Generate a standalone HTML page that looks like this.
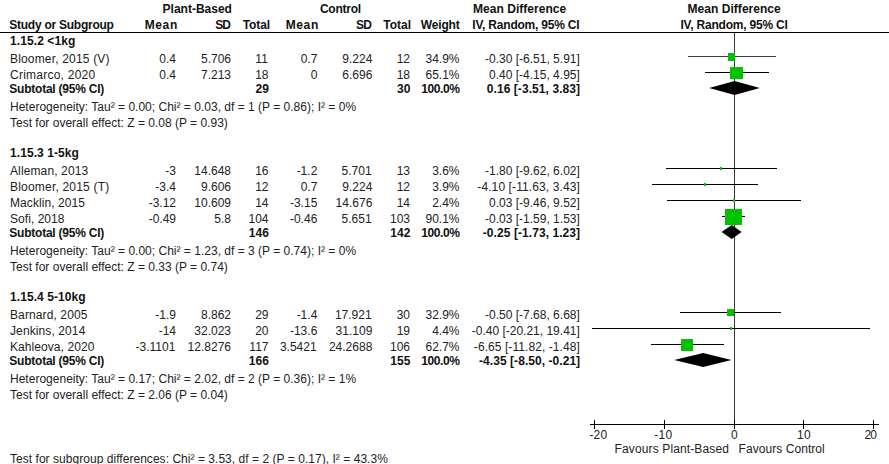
<!DOCTYPE html>
<html><head><meta charset="utf-8"><title>Forest plot</title><style>
html,body{margin:0;padding:0;background:#fff;}
body{width:889px;height:464px;position:relative;overflow:hidden;}
.n,.b{position:absolute;white-space:pre;font-family:"Liberation Sans",sans-serif;line-height:14px;color:#222;}
.n{font-size:12px;}
.b{font-size:12px;font-weight:bold;color:#111;}
.c{transform:translateX(-50%);}
svg{position:absolute;left:0;top:0;}
</style></head><body>
<svg width="889" height="464" viewBox="0 0 889 464">
<g shape-rendering="crispEdges">
<line x1="0.00" y1="32.50" x2="889.00" y2="32.50" stroke="#000" stroke-width="1"/>
<line x1="734.50" y1="33.00" x2="734.50" y2="424.00" stroke="#383838" stroke-width="1"/>
<line x1="590.00" y1="424.50" x2="879.00" y2="424.50" stroke="#000" stroke-width="1"/>
<line x1="594.50" y1="420.00" x2="594.50" y2="429.00" stroke="#000" stroke-width="1"/>
<line x1="664.50" y1="420.00" x2="664.50" y2="429.00" stroke="#000" stroke-width="1"/>
<line x1="734.50" y1="420.00" x2="734.50" y2="429.00" stroke="#000" stroke-width="1"/>
<line x1="803.50" y1="420.00" x2="803.50" y2="429.00" stroke="#000" stroke-width="1"/>
<line x1="873.50" y1="420.00" x2="873.50" y2="429.00" stroke="#000" stroke-width="1"/>
<line x1="688.00" y1="56.50" x2="776.00" y2="56.50" stroke="#3a3a3a" stroke-width="1"/>
<rect x="728.00" y="53.00" width="7.00" height="8.00" fill="#00c200"/>
<line x1="705.00" y1="72.50" x2="769.00" y2="72.50" stroke="#000" stroke-width="1"/>
<rect x="730.00" y="67.00" width="13.00" height="12.00" fill="#00c200"/>
<line x1="666.00" y1="168.50" x2="777.00" y2="168.50" stroke="#000" stroke-width="1"/>
<rect x="720.00" y="167.00" width="2.00" height="3.00" fill="#00c200"/>
<line x1="652.00" y1="184.50" x2="758.00" y2="184.50" stroke="#000" stroke-width="1"/>
<rect x="704.00" y="183.00" width="2.00" height="3.00" fill="#00c200"/>
<line x1="667.00" y1="200.50" x2="801.00" y2="200.50" stroke="#000" stroke-width="1"/>
<rect x="733.00" y="199.00" width="2.00" height="3.00" fill="#00c200"/>
<line x1="722.00" y1="216.50" x2="745.00" y2="216.50" stroke="#000" stroke-width="1"/>
<rect x="725.00" y="209.00" width="17.00" height="16.00" fill="#00c200"/>
<line x1="680.00" y1="312.50" x2="781.00" y2="312.50" stroke="#000" stroke-width="1"/>
<rect x="727.00" y="309.00" width="7.00" height="7.00" fill="#00c200"/>
<line x1="592.00" y1="328.50" x2="870.00" y2="328.50" stroke="#000" stroke-width="1"/>
<rect x="730.00" y="327.00" width="2.00" height="3.00" fill="#00c200"/>
<line x1="651.00" y1="344.50" x2="724.00" y2="344.50" stroke="#000" stroke-width="1"/>
<rect x="681.00" y="339.00" width="12.00" height="12.00" fill="#00c200"/>
</g>
<polygon points="709.13,88.00 734.62,81.00 759.81,88.00 734.62,95.00" fill="#000"/>
<polygon points="721.59,232.00 731.75,225.00 741.61,232.00 731.75,239.00" fill="#000"/>
<polygon points="674.20,360.00 703.05,353.00 731.53,360.00 703.05,367.00" fill="#000"/>
</svg>
<span id="t0" class="b" style="top:2.00px;right:657.10px;">Plant-Based</span>
<span id="t1" class="b" style="top:2.00px;letter-spacing:-0.225px;right:528.02px;">Control</span>
<span id="t2" class="b" style="top:2.00px;letter-spacing:0.038px;left:473.00px;">Mean Difference</span>
<span id="t3" class="b c" style="top:2.00px;letter-spacing:0.035px;left:734.20px;">Mean Difference</span>
<span id="t4" class="b" style="top:18.00px;letter-spacing:-0.256px;left:9.30px;">Study or Subgroup</span>
<span id="t5" class="b" style="top:18.00px;letter-spacing:0.600px;right:711.20px;">Mean</span>
<span id="t6" class="b" style="top:18.00px;letter-spacing:-0.900px;right:659.00px;">SD</span>
<span id="t7" class="b" style="top:18.00px;letter-spacing:-0.120px;right:619.02px;">Total</span>
<span id="t8" class="b" style="top:18.00px;letter-spacing:0.600px;right:570.20px;">Mean</span>
<span id="t9" class="b" style="top:18.00px;letter-spacing:-0.900px;right:518.10px;">SD</span>
<span id="t10" class="b" style="top:18.00px;right:478.00px;">Total</span>
<span id="t11" class="b" style="top:18.00px;letter-spacing:-0.180px;right:429.48px;">Weight</span>
<span id="t12" class="b" style="top:18.00px;letter-spacing:-0.212px;left:472.30px;">IV, Random, 95% CI</span>
<span id="t13" class="b c" style="top:18.00px;letter-spacing:-0.212px;left:734.00px;">IV, Random, 95% CI</span>
<span id="t14" class="b" style="top:34.00px;letter-spacing:0.090px;left:10.00px;">1.15.2 &lt;1kg</span>
<span id="t15" class="n" style="top:52.00px;letter-spacing:0.172px;left:10.00px;">Bloomer, 2015 (V)</span>
<span id="t16" class="n" style="top:52.00px;right:713.00px;">0.4</span>
<span id="t17" class="n" style="top:52.00px;right:658.00px;">5.706</span>
<span id="t18" class="n" style="top:52.00px;right:621.20px;">11</span>
<span id="t19" class="n" style="top:52.00px;right:571.70px;">0.7</span>
<span id="t20" class="n" style="top:52.00px;right:516.70px;">9.224</span>
<span id="t21" class="n" style="top:52.00px;right:479.00px;">12</span>
<span id="t22" class="n" style="top:52.00px;right:429.50px;">34.9%</span>
<span id="t23" class="n" style="top:52.00px;right:309.20px;">-0.30 [-6.51, 5.91]</span>
<span id="t24" class="n" style="top:68.00px;letter-spacing:0.238px;left:10.00px;">Crimarco, 2020</span>
<span id="t25" class="n" style="top:68.00px;right:713.00px;">0.4</span>
<span id="t26" class="n" style="top:68.00px;right:658.00px;">7.213</span>
<span id="t27" class="n" style="top:68.00px;right:620.50px;">18</span>
<span id="t28" class="n" style="top:68.00px;right:571.70px;">0</span>
<span id="t29" class="n" style="top:68.00px;right:516.70px;">6.696</span>
<span id="t30" class="n" style="top:68.00px;right:479.00px;">18</span>
<span id="t31" class="n" style="top:68.00px;right:429.50px;">65.1%</span>
<span id="t32" class="n" style="top:68.00px;right:309.20px;">0.40 [-4.15, 4.95]</span>
<span id="t33" class="b" style="top:82.00px;letter-spacing:-0.227px;left:9.30px;">Subtotal (95% CI)</span>
<span id="t34" class="b" style="top:82.00px;right:620.20px;">29</span>
<span id="t35" class="b" style="top:82.00px;right:478.70px;">30</span>
<span id="t36" class="b" style="top:82.00px;letter-spacing:-0.450px;right:429.65px;">100.0%</span>
<span id="t37" class="b" style="top:82.00px;letter-spacing:0.078px;right:308.82px;">0.16 [-3.51, 3.83]</span>
<span id="t38" class="n" style="top:100.00px;letter-spacing:0.010px;left:10.00px;">Heterogeneity: Tau² = 0.00; Chi² = 0.03, df = 1 (P = 0.86); I² = 0%</span>
<span id="t39" class="n" style="top:116.00px;letter-spacing:0.003px;left:10.00px;">Test for overall effect: Z = 0.08 (P = 0.93)</span>
<span id="t40" class="b" style="top:146.00px;letter-spacing:0.079px;left:10.00px;">1.15.3 1-5kg</span>
<span id="t41" class="n" style="top:164.00px;letter-spacing:0.120px;left:10.00px;">Alleman, 2013</span>
<span id="t42" class="n" style="top:164.00px;right:713.00px;">-3</span>
<span id="t43" class="n" style="top:164.00px;right:658.00px;">14.648</span>
<span id="t44" class="n" style="top:164.00px;right:620.50px;">16</span>
<span id="t45" class="n" style="top:164.00px;right:571.70px;">-1.2</span>
<span id="t46" class="n" style="top:164.00px;right:517.40px;">5.701</span>
<span id="t47" class="n" style="top:164.00px;right:479.00px;">13</span>
<span id="t48" class="n" style="top:164.00px;right:429.50px;">3.6%</span>
<span id="t49" class="n" style="top:164.00px;right:309.20px;">-1.80 [-9.62, 6.02]</span>
<span id="t50" class="n" style="top:180.00px;letter-spacing:0.200px;left:10.00px;">Bloomer, 2015 (T)</span>
<span id="t51" class="n" style="top:180.00px;right:713.00px;">-3.4</span>
<span id="t52" class="n" style="top:180.00px;right:658.00px;">9.606</span>
<span id="t53" class="n" style="top:180.00px;right:620.50px;">12</span>
<span id="t54" class="n" style="top:180.00px;right:571.70px;">0.7</span>
<span id="t55" class="n" style="top:180.00px;right:516.70px;">9.224</span>
<span id="t56" class="n" style="top:180.00px;right:479.00px;">12</span>
<span id="t57" class="n" style="top:180.00px;right:429.50px;">3.9%</span>
<span id="t58" class="n" style="top:180.00px;letter-spacing:0.105px;right:309.10px;">-4.10 [-11.63, 3.43]</span>
<span id="t59" class="n" style="top:196.00px;letter-spacing:0.075px;left:10.00px;">Macklin, 2015</span>
<span id="t60" class="n" style="top:196.00px;right:713.00px;">-3.12</span>
<span id="t61" class="n" style="top:196.00px;right:658.00px;">10.609</span>
<span id="t62" class="n" style="top:196.00px;right:620.50px;">14</span>
<span id="t63" class="n" style="top:196.00px;right:571.70px;">-3.15</span>
<span id="t64" class="n" style="top:196.00px;right:516.70px;">14.676</span>
<span id="t65" class="n" style="top:196.00px;right:479.00px;">14</span>
<span id="t66" class="n" style="top:196.00px;right:429.50px;">2.4%</span>
<span id="t67" class="n" style="top:196.00px;right:309.20px;">0.03 [-9.46, 9.52]</span>
<span id="t68" class="n" style="top:212.00px;letter-spacing:0.050px;left:10.00px;">Sofi, 2018</span>
<span id="t69" class="n" style="top:212.00px;right:713.00px;">-0.49</span>
<span id="t70" class="n" style="top:212.00px;right:658.00px;">5.8</span>
<span id="t71" class="n" style="top:212.00px;right:620.50px;">104</span>
<span id="t72" class="n" style="top:212.00px;right:571.70px;">-0.46</span>
<span id="t73" class="n" style="top:212.00px;right:517.40px;">5.651</span>
<span id="t74" class="n" style="top:212.00px;right:479.00px;">103</span>
<span id="t75" class="n" style="top:212.00px;right:429.50px;">90.1%</span>
<span id="t76" class="n" style="top:212.00px;right:309.20px;">-0.03 [-1.59, 1.53]</span>
<span id="t77" class="b" style="top:226.00px;letter-spacing:-0.227px;left:9.30px;">Subtotal (95% CI)</span>
<span id="t78" class="b" style="top:226.00px;right:620.20px;">146</span>
<span id="t79" class="b" style="top:226.00px;right:478.70px;">142</span>
<span id="t80" class="b" style="top:226.00px;letter-spacing:-0.450px;right:429.65px;">100.0%</span>
<span id="t81" class="b" style="top:226.00px;letter-spacing:0.070px;right:308.83px;">-0.25 [-1.73, 1.23]</span>
<span id="t82" class="n" style="top:244.00px;letter-spacing:0.010px;left:10.00px;">Heterogeneity: Tau² = 0.00; Chi² = 1.23, df = 3 (P = 0.74); I² = 0%</span>
<span id="t83" class="n" style="top:260.00px;letter-spacing:0.003px;left:10.00px;">Test for overall effect: Z = 0.33 (P = 0.74)</span>
<span id="t84" class="b" style="top:290.00px;letter-spacing:0.075px;left:10.00px;">1.15.4 5-10kg</span>
<span id="t85" class="n" style="top:308.00px;letter-spacing:0.112px;left:10.00px;">Barnard, 2005</span>
<span id="t86" class="n" style="top:308.00px;right:713.00px;">-1.9</span>
<span id="t87" class="n" style="top:308.00px;right:658.00px;">8.862</span>
<span id="t88" class="n" style="top:308.00px;right:620.50px;">29</span>
<span id="t89" class="n" style="top:308.00px;right:571.70px;">-1.4</span>
<span id="t90" class="n" style="top:308.00px;right:517.40px;">17.921</span>
<span id="t91" class="n" style="top:308.00px;right:479.00px;">30</span>
<span id="t92" class="n" style="top:308.00px;right:429.50px;">32.9%</span>
<span id="t93" class="n" style="top:308.00px;right:309.20px;">-0.50 [-7.68, 6.68]</span>
<span id="t94" class="n" style="top:324.00px;letter-spacing:0.105px;left:10.00px;">Jenkins, 2014</span>
<span id="t95" class="n" style="top:324.00px;right:713.00px;">-14</span>
<span id="t96" class="n" style="top:324.00px;right:658.00px;">32.023</span>
<span id="t97" class="n" style="top:324.00px;right:620.50px;">20</span>
<span id="t98" class="n" style="top:324.00px;right:571.70px;">-13.6</span>
<span id="t99" class="n" style="top:324.00px;right:516.70px;">31.109</span>
<span id="t100" class="n" style="top:324.00px;right:479.00px;">19</span>
<span id="t101" class="n" style="top:324.00px;right:429.50px;">4.4%</span>
<span id="t102" class="n" style="top:324.00px;right:309.20px;">-0.40 [-20.21, 19.41]</span>
<span id="t103" class="n" style="top:340.00px;letter-spacing:0.069px;left:10.00px;">Kahleova, 2020</span>
<span id="t104" class="n" style="top:340.00px;right:713.70px;">-3.1101</span>
<span id="t105" class="n" style="top:340.00px;right:658.00px;">12.8276</span>
<span id="t106" class="n" style="top:340.00px;right:620.50px;">117</span>
<span id="t107" class="n" style="top:340.00px;right:572.40px;">3.5421</span>
<span id="t108" class="n" style="top:340.00px;right:516.70px;">24.2688</span>
<span id="t109" class="n" style="top:340.00px;right:479.00px;">106</span>
<span id="t110" class="n" style="top:340.00px;right:429.50px;">62.7%</span>
<span id="t111" class="n" style="top:340.00px;letter-spacing:0.072px;right:309.13px;">-6.65 [-11.82, -1.48]</span>
<span id="t112" class="b" style="top:354.00px;letter-spacing:-0.227px;left:9.30px;">Subtotal (95% CI)</span>
<span id="t113" class="b" style="top:354.00px;right:620.20px;">166</span>
<span id="t114" class="b" style="top:354.00px;right:478.70px;">155</span>
<span id="t115" class="b" style="top:354.00px;letter-spacing:-0.450px;right:429.65px;">100.0%</span>
<span id="t116" class="b" style="top:354.00px;letter-spacing:0.052px;right:308.85px;">-4.35 [-8.50, -0.21]</span>
<span id="t117" class="n" style="top:372.00px;letter-spacing:0.010px;left:10.00px;">Heterogeneity: Tau² = 0.17; Chi² = 2.02, df = 2 (P = 0.36); I² = 1%</span>
<span id="t118" class="n" style="top:388.00px;letter-spacing:0.003px;left:10.00px;">Test for overall effect: Z = 2.06 (P = 0.04)</span>
<span id="t119" class="n" style="top:452.00px;letter-spacing:0.038px;left:10.00px;">Test for subgroup differences: Chi² = 3.53, df = 2 (P = 0.17), I² = 43.3%</span>
<span id="t120" class="n" style="top:428.00px;letter-spacing:0.225px;left:589.40px;">-20</span>
<span id="t121" class="n" style="top:428.00px;letter-spacing:0.225px;left:654.30px;">-10</span>
<span id="t122" class="n c" style="top:428.00px;left:734.40px;">0</span>
<span id="t123" class="n c" style="top:428.00px;letter-spacing:0.450px;left:804.00px;">10</span>
<span id="t124" class="n" style="top:428.00px;letter-spacing:-0.900px;right:12.90px;">20</span>
<span id="t125" class="n" style="top:442.00px;letter-spacing:0.125px;right:159.98px;">Favours Plant-Based</span>
<span id="t126" class="n" style="top:442.00px;letter-spacing:0.064px;left:738.50px;">Favours Control</span>
</body></html>
